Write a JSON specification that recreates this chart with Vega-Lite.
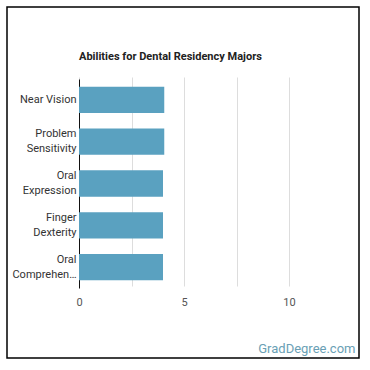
{
  "$schema": "https://vega.github.io/schema/vega-lite/v6.json",
  "width": 352,
  "height": 351,
  "autosize": {"type": "none"},
  "padding": {"left": 7, "top": 7, "right": 11, "bottom": 12},
  "background": "white",
  "config": {
    "view": {"stroke": "#000", "strokeWidth": 1.5},
    "font": "Roboto"
  },
  "title": {
    "text": "Abilities for Dental Residency Majors",
    "anchor": "start",
    "frame": "group",
    "dx": 72,
    "offset": -64,
    "baseline": "alphabetic",
    "fontSize": 11,
    "fontWeight": "bold",
    "color": "#222",
    "font": "Roboto"
  },
  "data": {
    "values": [
      {"ability": "Near Vision", "score": 4.06},
      {"ability": "Problem Sensitivity", "score": 4.06},
      {"ability": "Oral Expression", "score": 4.0},
      {"ability": "Finger Dexterity", "score": 4.0},
      {"ability": "Oral Comprehension", "score": 4.0}
    ]
  },
  "mark": {"type": "bar", "color": "#5aa1c0"},
  "encoding": {
    "y": {
      "field": "ability",
      "type": "nominal",
      "sort": null,
      "scale": {"range": [72, 281], "paddingInner": 0.37, "paddingOuter": 0.185},
      "axis": {
        "title": null,
        "offset": -72,
        "domainColor": "#111",
        "domainWidth": 1,
        "ticks": false,
        "labelPadding": 3,
        "labelFontSize": 11,
        "labelColor": "#333",
        "labelLimit": 66,
        "labelLineHeight": 15,
        "labelOffset": {"condition": {"test": "datum.label == 'Near Vision'", "value": 0}, "value": -7.5},
        "labelExpr": "datum.label == 'Near Vision' ? datum.label : split(datum.label, ' ')"
      }
    },
    "x": {
      "field": "score",
      "type": "quantitative",
      "scale": {"domain": [0, 10], "range": [72, 282], "nice": false},
      "axis": {
        "title": "GradDegree.com",
        "titleX": 348,
        "titleY": 60,
        "titleAlign": "right",
        "titleBaseline": "middle",
        "titleAnchor": null,
        "titleFontSize": 13,
        "titleFontWeight": "normal",
        "titleColor": "#6a9fb5",
        "offset": -70,
        "values": [0, 2.5, 5, 7.5, 10],
        "labelExpr": "datum.value % 5 === 0 ? datum.label : ''",
        "labelFlush": false,
        "domain": false,
        "ticks": false,
        "grid": true,
        "gridColor": "#dddddd",
        "labelPadding": 8,
        "labelFontSize": 11,
        "labelColor": "#555"
      }
    }
  }
}
